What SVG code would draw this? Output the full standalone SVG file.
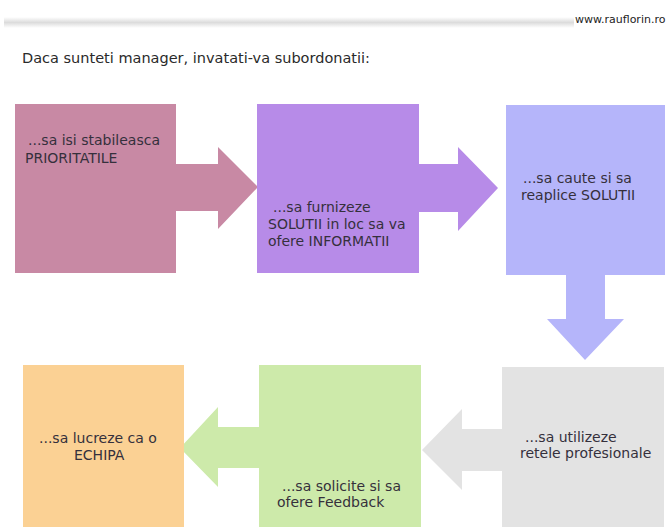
<svg xmlns="http://www.w3.org/2000/svg" width="669" height="527" viewBox="0 0 669 527">
<defs>
<linearGradient id="hdr" x1="0" y1="0" x2="0" y2="1">
<stop offset="0" stop-color="#ffffff"/>
<stop offset="0.5" stop-color="#dcdcdc"/>
<stop offset="1" stop-color="#ffffff"/>
</linearGradient>
<style>
.t{font-family:"DejaVu Sans","Liberation Sans",sans-serif;font-size:14px;fill:#35303c}
.title{font-family:"DejaVu Sans","Liberation Sans",sans-serif;font-size:14.5px;fill:#2a2a2a}
.url{font-family:"DejaVu Sans","Liberation Sans",sans-serif;font-size:11px;fill:#222}
</style>
</defs>
<rect width="669" height="527" fill="#ffffff"/>
<rect x="4" y="17" width="570" height="11" fill="url(#hdr)"/>
<text class="url" x="575" y="23">www.rauflorin.ro</text>
<text class="title" x="22" y="63">Daca sunteti manager, invatati-va subordonatii:</text>
<g id="connectors">
<polygon points="176,164 218,164 218,147 258,187 218,229 218,211 176,211" fill="#C889A4"/>
<polygon points="419,164 458,164 458,147 498,188 458,231 458,212 419,212" fill="#B78BE8"/>
<polygon points="566,275 605,275 605,319 624,319 585,360 547,319 566,319" fill="#B5B5FA"/>
<polygon points="502,429 462,429 462,409 422,450 462,490 462,471 502,471" fill="#E3E3E3"/>
<polygon points="259,427 218,427 218,407 180,448 218,487 218,468 259,468" fill="#CDEAAA"/>
</g>
<g id="node1">
<rect x="15" y="104" width="161" height="169" fill="#C889A4"/>
<text class="t" x="28" y="145">...sa isi stabileasca</text>
<text class="t" x="25" y="163">PRIORITATILE</text>
</g>
<g id="node2">
<rect x="257" y="104" width="162" height="169" fill="#B78BE8"/>
<text class="t" x="273" y="212">...sa furnizeze</text>
<text class="t" x="268" y="229">SOLUTII in loc sa va</text>
<text class="t" x="268" y="246">ofere INFORMATII</text>
</g>
<g id="node3">
<rect x="506" y="105" width="159" height="170" fill="#B5B5FA"/>
<text class="t" x="523" y="183">...sa caute si sa</text>
<text class="t" x="521" y="200">reaplice SOLUTII</text>
</g>
<g id="node4">
<rect x="23" y="365" width="161" height="162" fill="#FBD194"/>
<text class="t" x="39" y="443">...sa lucreze ca o</text>
<text class="t" x="74" y="460">ECHIPA</text>
</g>
<g id="node5">
<rect x="259" y="365" width="162" height="162" fill="#CDEAAA"/>
<text class="t" x="282" y="491">...sa solicite si sa</text>
<text class="t" x="277" y="507">ofere Feedback</text>
</g>
<g id="node6">
<rect x="502" y="367" width="162" height="160" fill="#E3E3E3"/>
<text class="t" x="525" y="442">...sa utilizeze</text>
<text class="t" x="520" y="458">retele profesionale</text>
</g>
</svg>
